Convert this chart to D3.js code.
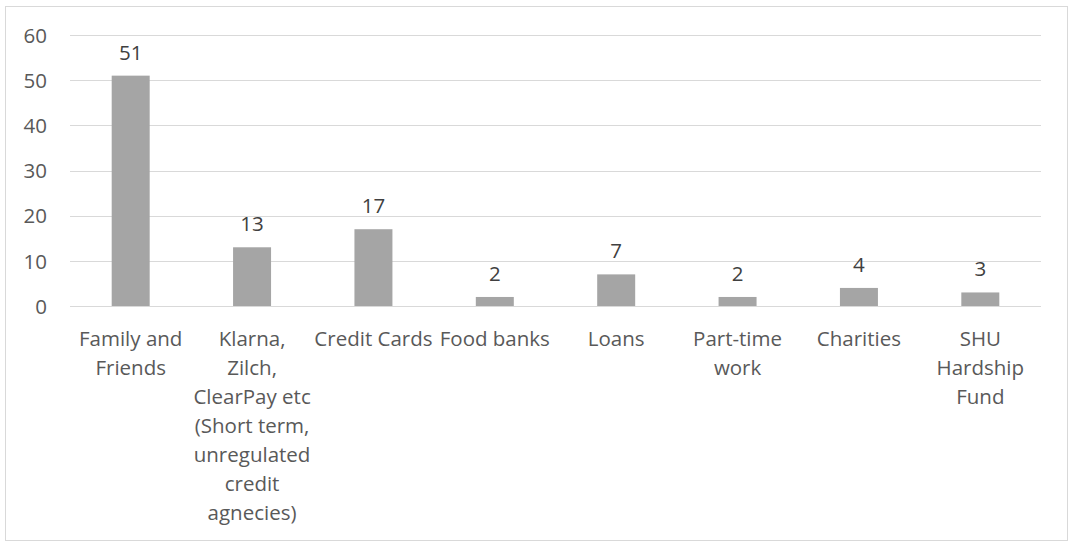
<!DOCTYPE html>
<html>
<head>
<meta charset="utf-8">
<script src="https://cdn.jsdelivr.net/npm/d3@7"></script>
<style>
  html, body { margin: 0; padding: 0; background: #fff; }
  svg { display: block; }
  text { font-family: "Open Sans", "Noto Sans", sans-serif; }
</style>
</head>
<body>
<svg id="chart" width="1070" height="545"></svg>
<script>
const categories = ["Family and Friends", "Klarna, Zilch, ClearPay etc (Short term, unregulated credit agnecies)", "Credit Cards", "Food banks", "Loans", "Part-time work", "Charities", "SHU Hardship Fund"];
const categoryLines = [
  ["Family and", "Friends"],
  ["Klarna,", "Zilch,", "ClearPay etc", "(Short term,", "unregulated", "credit", "agnecies)"],
  ["Credit Cards"],
  ["Food banks"],
  ["Loans"],
  ["Part-time", "work"],
  ["Charities"],
  ["SHU", "Hardship", "Fund"]
];
const values = [51, 13, 17, 2, 7, 2, 4, 3];
const yTicks = [0, 10, 20, 30, 40, 50, 60];

const svg = d3.select("#chart");
const plot = { left: 70, right: 1041, top: 35, bottom: 306 };
const FS = "20.5px";

// chart border
svg.append("rect")
  .attr("x", 5.5).attr("y", 6.5)
  .attr("width", 1062).attr("height", 534)
  .attr("fill", "#fff").attr("stroke", "#d9d9d9").attr("stroke-width", 1);

const x = d3.scaleBand()
  .domain(categories)
  .range([plot.left, plot.right])
  .paddingInner(0.687)
  .paddingOuter(0.3435);

const y = d3.scaleLinear().domain([0, 60]).range([plot.bottom, plot.top]);

// gridlines
svg.append("g").selectAll("line")
  .data(yTicks)
  .join("line")
  .attr("x1", plot.left).attr("x2", plot.right)
  .attr("y1", d => Math.round(y(d)) + 0.5).attr("y2", d => Math.round(y(d)) + 0.5)
  .attr("stroke", "#d9d9d9").attr("stroke-width", 1);

// y axis labels
const yAxis = d3.axisLeft(y).tickValues(yTicks).tickSize(0).tickPadding(0).tickFormat(d3.format("d"));
const gy = svg.append("g").attr("transform", "translate(47,0)").call(yAxis);
gy.select(".domain").remove();
gy.selectAll("text")
  .attr("fill", "#595959")
  .style("font-size", FS)
  .style("font-family", "'Open Sans', sans-serif")
  .attr("dy", "0.35em");

// bars
svg.append("g").selectAll("rect")
  .data(values)
  .join("rect")
  .attr("x", (d, i) => x(categories[i]))
  .attr("width", x.bandwidth())
  .attr("y", d => y(d))
  .attr("height", d => y(0) - y(d))
  .attr("fill", "#a5a5a5");

// baseline on top of bars
svg.append("line")
  .attr("x1", plot.left).attr("x2", plot.right)
  .attr("y1", Math.round(y(0)) + 0.5).attr("y2", Math.round(y(0)) + 0.5)
  .attr("stroke", "#d9d9d9").attr("stroke-width", 1);

// data labels
svg.append("g").selectAll("text")
  .data(values)
  .join("text")
  .attr("x", (d, i) => x(categories[i]) + x.bandwidth() / 2)
  .attr("y", d => y(d) - 16)
  .attr("text-anchor", "middle")
  .attr("fill", "#404040")
  .style("font-size", FS)
  .text(d => d);

// x labels
const xl = svg.append("g").selectAll("text")
  .data(categories)
  .join("text")
  .attr("text-anchor", "middle")
  .attr("fill", "#595959")
  .style("font-size", FS)
  .attr("x", d => x(d) + x.bandwidth() / 2)
  .attr("y", 346);
xl.each(function(d, i) {
  const cx = x(d) + x.bandwidth() / 2;
  d3.select(this).selectAll("tspan")
    .data(categoryLines[i])
    .join("tspan")
    .attr("x", cx)
    .attr("dy", (l, j) => j === 0 ? 0 : 29)
    .text(l => l);
});
</script>
</body>
</html>
